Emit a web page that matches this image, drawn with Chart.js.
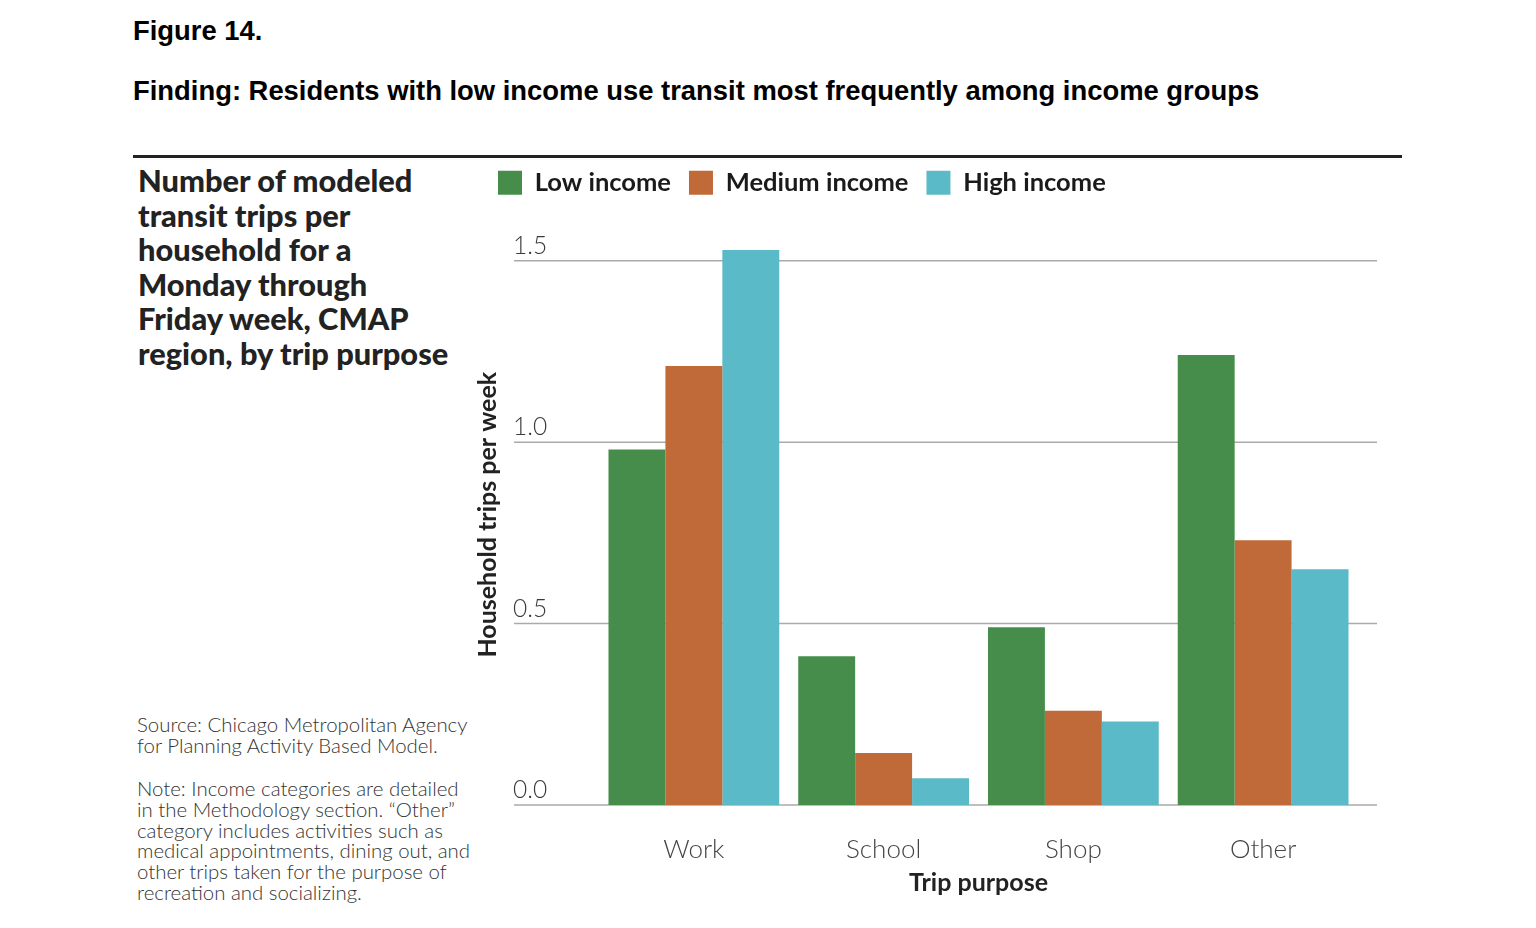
<!DOCTYPE html>
<html>
<head>
<meta charset="utf-8">
<script src="https://cdn.jsdelivr.net/npm/chart.js@4.4.1/dist/chart.umd.min.js"></script>
<style>
  body { margin: 0; background: #fff; width: 1536px; height: 928px; position: relative; overflow: hidden; }
  .fig { position: absolute; left: 133px; font-family: "Liberation Sans", Arial, sans-serif; font-weight: bold; font-size: 27.4px; color: #000; white-space: nowrap; }
  #regla { position: absolute; left: 133px; top: 155px; width: 1269px; height: 3px; background: #222; }
  #cabecera { position: absolute; left: 138px; top: 164px; font-family: Lato, sans-serif; font-weight: 900; font-size: 30.8px; line-height: 34.6px; color: #222; white-space: nowrap; }
  .nota { position: absolute; left: 137px; font-family: Lato, sans-serif; font-weight: 300; font-size: 20.4px; line-height: 20.8px; color: #333; white-space: nowrap; }
  #grafica { position: absolute; left: 460px; top: 152px; }
</style>
</head>
<body>
<div class="fig" style="top:15px">Figure 14.</div>
<div class="fig" style="top:75px">Finding: Residents with low income use transit most frequently among income groups</div>
<div id="regla"></div>
<div id="cabecera">Number of modeled<br>transit trips per<br>household for a<br>Monday through<br>Friday week, CMAP<br>region, by trip purpose</div>
<div class="nota" style="top:714px">Source: Chicago Metropolitan Agency<br>for Planning Activity Based Model.</div>
<div class="nota" style="top:778px">Note: Income categories are detailed<br>in the Methodology section. “Other”<br>category includes activities such as<br>medical appointments, dining out, and<br>other trips taken for the purpose of<br>recreation and socializing.</div>
<div id="grafica" style="width:940px;height:746px"><canvas id="lienzo"></canvas></div>
<script>
// datos
const categorias = ['Work', 'School', 'Shop', 'Other'];
const ingreso_bajo = [0.98, 0.41, 0.49, 1.24];
const ingreso_medio = [1.21, 0.143, 0.26, 0.73];
const ingreso_alto = [1.53, 0.074, 0.23, 0.65];
const marcas_y = [0, 0.5, 1.0, 1.5];

const colores = ['#468d4b', '#c06a3a', '#5bbac8'];

// lineas de la rejilla y etiquetas del eje y, mas anchas que el area de barras
const rejilla = {
	id: 'rejilla',
	beforeDatasetsDraw(chart) {
		const ctx = chart.ctx;
		const area = chart.chartArea;
		const ejeY = chart.scales.y;
		ctx.save();
		ctx.strokeStyle = '#aaaaaa';
		ctx.lineWidth = 1.5;
		ctx.fillStyle = '#3a3a3a';
		ctx.font = '300 24.5px Lato, sans-serif';
		ctx.textBaseline = 'alphabetic';
		ctx.textAlign = 'left';
		marcas_y.forEach(function (v) {
			const y = ejeY.getPixelForValue(v);
			ctx.beginPath();
			ctx.moveTo(area.left - 85, y);
			ctx.lineTo(area.right + 19, y);
			ctx.stroke();
			ctx.fillText(v.toFixed(1), area.left - 86, y - 7);
		});
		ctx.restore();
	}
};

new Chart(document.getElementById('lienzo'), {
	type: 'bar',
	data: {
		labels: categorias,
		datasets: [
			{ label: 'Low income', data: ingreso_bajo, backgroundColor: colores[0] },
			{ label: 'Medium income', data: ingreso_medio, backgroundColor: colores[1] },
			{ label: 'High income', data: ingreso_alto, backgroundColor: colores[2] }
		]
	},
	options: {
		responsive: true,
		maintainAspectRatio: false,
		animation: false,
		layout: { padding: { left: 20, right: 42, top: 0, bottom: 0 } },
		datasets: { bar: { categoryPercentage: 0.9, barPercentage: 1.0 } },
		plugins: {
			tooltip: { enabled: false },
			// titulo vacio como separador entre leyenda y barras
			title: { display: true, text: '', weight: 500, font: { size: 10, lineHeight: 1 }, padding: { top: 0, bottom: 9 } },
			legend: {
				position: 'top',
				align: 'start',
				labels: {
					boxWidth: 24,
					boxHeight: 24,
					padding: 18,
					color: '#1a1a1a',
					font: { family: 'Lato, sans-serif', size: 25.5, weight: 'bold' }
				}
			}
		},
		scales: {
			x: {
				grid: { display: false },
				border: { display: false },
				afterFit: function (eje) { eje.height = 93; },
				ticks: { color: '#444', padding: 21, font: { family: 'Lato, sans-serif', size: 26, weight: 300 } },
				title: { display: true, text: 'Trip purpose', color: '#222', padding: { top: 0, bottom: 0 }, font: { family: 'Lato, sans-serif', size: 25, weight: 'bold' } }
			},
			y: {
				min: 0,
				max: 1.6,
				grid: { display: false },
				border: { display: false },
				ticks: { display: false },
				afterFit: function (eje) { eje.width = 119; },
				title: { display: true, text: 'Household trips per week', color: '#222', padding: { top: -5, bottom: 0 }, font: { family: 'Lato, sans-serif', size: 25, weight: 'bold', lineHeight: 1 } }
			}
		}
	},
	plugins: [rejilla]
});
</script>
</body>
</html>
